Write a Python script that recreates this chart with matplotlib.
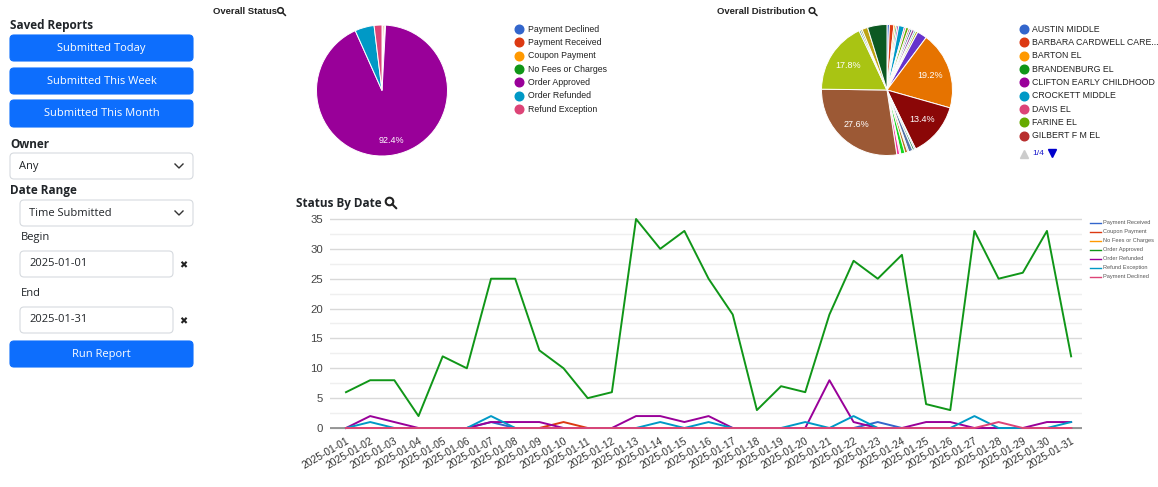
import matplotlib.pyplot as plt
from matplotlib.patches import FancyBboxPatch, Circle

W, H = 1158, 487
UI_FONT = ["Open Sans", "DejaVu Sans"]
CHART_FONT = ["Liberation Sans", "DejaVu Sans"]

# --- data ---
dates = ["2025-01-01", "2025-01-02", "2025-01-03", "2025-01-04", "2025-01-05",
         "2025-01-06", "2025-01-07", "2025-01-08", "2025-01-09", "2025-01-10",
         "2025-01-11", "2025-01-12", "2025-01-13", "2025-01-14", "2025-01-15",
         "2025-01-16", "2025-01-17", "2025-01-18", "2025-01-19", "2025-01-20",
         "2025-01-21", "2025-01-22", "2025-01-23", "2025-01-24", "2025-01-25",
         "2025-01-26", "2025-01-27", "2025-01-28", "2025-01-29", "2025-01-30",
         "2025-01-31"]

payment_received = [0, 0, 0, 0, 0, 0, 1, 0, 0, 0, 0, 0, 0, 0, 0, 0,
                    0, 0, 0, 0, 0, 0, 1, 0, 0, 0, 0, 0, 0, 0, 0]
coupon_payment = [0, 0, 0, 0, 0, 0, 0, 0, 0, 1, 0, 0, 0, 0, 0, 0,
                  0, 0, 0, 0, 0, 0, 0, 0, 0, 0, 0, 0, 0, 0, 0]
no_fees = [0] * 31
order_approved = [6, 8, 8, 2, 12, 10, 25, 25, 13, 10, 5, 6, 35, 30, 33, 25,
                  19, 3, 7, 6, 19, 28, 25, 29, 4, 3, 33, 25, 26, 33, 12]
order_refunded = [0, 2, 1, 0, 0, 0, 1, 1, 1, 0, 0, 0, 2, 2, 1, 2,
                  0, 0, 0, 0, 8, 1, 0, 0, 1, 1, 0, 0, 0, 1, 1]
refund_exception = [0, 1, 0, 0, 0, 0, 2, 0, 0, 0, 0, 0, 0, 1, 0, 1,
                    0, 0, 0, 1, 0, 2, 0, 0, 0, 0, 2, 0, 0, 0, 1]
payment_declined = [0, 0, 0, 0, 0, 0, 0, 0, 0, 0, 0, 0, 0, 0, 0, 0,
                    0, 0, 0, 0, 0, 0, 0, 0, 0, 0, 0, 1, 0, 0, 0]

line_names = ["Payment Received", "Coupon Payment", "No Fees or Charges",
              "Order Approved", "Order Refunded", "Refund Exception",
              "Payment Declined"]
line_values = [payment_received, coupon_payment, no_fees, order_approved,
               order_refunded, refund_exception, payment_declined]
line_colors = ["#3366cc", "#dc3912", "#ff9900", "#109618", "#990099",
               "#0099c6", "#dd4477"]

status_labels = ["Payment Declined", "Payment Received", "Coupon Payment",
                 "No Fees or Charges", "Order Approved", "Order Refunded",
                 "Refund Exception"]
status_counts = [1, 2, 1, 1, 525, 27, 11]
status_colors = ["#3366cc", "#dc3912", "#ff9900", "#109618", "#990099",
                 "#0099c6", "#dd4477"]

school_names = ["AUSTIN MIDDLE", "BARBARA CARDWELL CARE...", "BARTON EL",
                "BRANDENBURG EL", "CLIFTON EARLY CHILDHOOD", "CROCKETT MIDDLE",
                "DAVIS EL", "FARINE EL", "GILBERT F M EL"]
school_shares = [0.6, 1.1, 0.4, 0.4, 0.4, 1.4, 0.4, 0.7, 0.4, 0.5, 0.6, 0.4,
                 0.5, 2.4, 19.2, 13.4, 0.3, 0.5, 1.0, 0.3, 0.7, 1.0, 0.3, 0.7,
                 27.6, 17.8, 0.4, 0.4, 1.4, 4.8]
school_colors = ["#3366cc", "#dc3912", "#ff9900", "#109618", "#990099",
                 "#0099c6", "#dd4477", "#66aa00", "#b82e2e", "#316395",
                 "#994499", "#22aa99", "#aaaa11", "#6633cc", "#e67300",
                 "#8b0707", "#651067", "#329262", "#5574a6", "#3b3eac",
                 "#b77322", "#16d620", "#b91383", "#f4359e", "#9c5935",
                 "#a9c413", "#2a778d", "#668d1c", "#bea413", "#0c5922"]

fig = plt.figure(figsize=(W / 100, H / 100), dpi=100)

# overlay in pixel coordinates for the form controls and hand-made legends
ov = fig.add_axes([0, 0, 1, 1])
ov.set_xlim(0, W)
ov.set_ylim(H, 0)
ov.axis("off")


def box(x0, y0, x1, y1, fc, ec, r=4):
    ov.add_patch(FancyBboxPatch((x0 + r, y0 + r), x1 - x0 - 2 * r, y1 - y0 - 2 * r,
                                boxstyle=f"round,pad={r}", fc=fc, ec=ec, lw=0.8))


def button(y0, y1, label):
    box(10, y0, 193, y1, "#0d6efd", "#0d6efd")
    ov.text(101.5, (y0 + y1) / 2, label, color="white", ha="center", va="center",
            fontsize=8, family=UI_FONT)


def field(x0, y0, x1, y1, label, chevron=False):
    box(x0, y0, x1, y1, "white", "#d6dadf")
    ov.text(x0 + 9, (y0 + y1) / 2, label, color="#212529", ha="left", va="center",
            fontsize=8, family=UI_FONT)
    if chevron:
        cy = (y0 + y1) / 2
        ov.plot([175, 179, 183], [cy - 2, cy + 2, cy - 2], color="#333", lw=1)


def heading(x, y, label, size=8.5):
    ov.text(x, y, label, color="#212529", ha="left", va="center", fontsize=size,
            fontweight="bold", family=UI_FONT)


def magnifier(cx, cy, r, lw):
    ov.add_patch(Circle((cx, cy), r, fill=False, ec="#222", lw=lw))
    ov.plot([cx + r * 0.7, cx + r * 1.8], [cy + r * 0.7, cy + r * 1.8],
            color="#222", lw=lw, solid_capstyle="round")


# --- sidebar ---
heading(10, 26, "Saved Reports")
button(35, 61, "Submitted Today")
button(68, 94, "Submitted This Week")
button(100, 127, "Submitted This Month")
heading(10, 144, "Owner")
field(10, 153, 193, 179, "Any", chevron=True)
heading(10, 190.5, "Date Range")
field(20, 200, 193, 226, "Time Submitted", chevron=True)
ov.text(20.5, 237.5, "Begin", color="#212529", va="center", fontsize=8, family=UI_FONT)
field(20, 251, 173, 277, "2025-01-01")
ov.text(183, 265, "\u2716", ha="center", va="center", fontsize=7, color="#222",
        family="DejaVu Sans")
ov.text(20.5, 293, "End", color="#212529", va="center", fontsize=8, family=UI_FONT)
field(20, 307, 173, 333, "2025-01-31")
ov.text(183, 321.5, "\u2716", ha="center", va="center", fontsize=7, color="#222",
        family="DejaVu Sans")
button(341, 367, "Run Report")

# --- titles ---
ov.text(213, 11.5, "Overall Status", fontsize=6.8, fontweight="bold", va="center",
        color="#222", family=CHART_FONT)
magnifier(280.5, 10.5, 2.8, 1.1)
ov.text(717, 11.5, "Overall Distribution", fontsize=6.8, fontweight="bold", va="center",
        color="#222", family=CHART_FONT)
magnifier(812, 10.5, 2.8, 1.1)
heading(296, 203, "Status By Date", size=8.5)
magnifier(389.5, 201.5, 3.8, 1.5)


def pie_axes(cx, cy, r):
    return fig.add_axes([(cx - r) / W, 1 - (cy + r) / H, 2 * r / W, 2 * r / H])


def pct(p):
    return f"{p:.1f}%" if p > 5 else ""


# --- status pie ---
ax1 = pie_axes(382, 90.5, 65.5)
ax1.pie(status_counts, colors=status_colors, startangle=90, counterclock=False,
        autopct=pct, pctdistance=0.78,
        wedgeprops=dict(edgecolor="white", linewidth=0.7),
        textprops=dict(color="white", fontsize=6.5, family=CHART_FONT))
ax1.set_xlim(-1, 1)
ax1.set_ylim(-1, 1)
for i, (name, col) in enumerate(zip(status_labels, status_colors)):
    y = 29 + i * 13.35
    ov.plot(519, y, "o", ms=6.2, color=col, mec=col)
    ov.text(527.5, y, name, fontsize=6.3, va="center", color="#222", family=CHART_FONT)

# --- distribution pie ---
ax2 = pie_axes(887, 90, 65.5)
ax2.pie(school_shares, colors=school_colors, startangle=90, counterclock=False,
        autopct=pct, pctdistance=0.7,
        wedgeprops=dict(edgecolor="white", linewidth=0.7),
        textprops=dict(color="white", fontsize=6.5, family=CHART_FONT))
ax2.set_xlim(-1, 1)
ax2.set_ylim(-1, 1)
for i, name in enumerate(school_names):
    y = 29 + i * 13.35
    ov.plot(1024, y, "o", ms=6.2, color=school_colors[i], mec=school_colors[i])
    ov.text(1032.5, y, name, fontsize=6.3, va="center", color="#222", family=CHART_FONT)
ov.plot(1024, 153.5, "^", ms=5.5, color="#cccccc")
ov.text(1032.5, 153.5, "1/4", fontsize=6.1, va="center", color="#1a1acc", family=CHART_FONT)
ov.plot(1051.5, 153, "v", ms=5.5, color="#0000cc")

# --- status by date ---
ax = fig.add_axes([330 / W, 1 - 430.4 / H, 752 / W, 213.8 / H])
ax.patch.set_alpha(0)
xs = list(range(len(dates)))
for name, vals, col in zip(line_names, line_values, line_colors):
    ax.plot(xs, vals, color=col, lw=1.4, label=name, zorder=3)
ax.axhline(0, color="#888888", lw=1.2, zorder=2)
ax.set_xlim(-0.662, 30.45)
ax.set_ylim(-0.4, 35.4)
ax.set_yticks(range(0, 36, 5))
ax.set_yticks([2.5 + 5 * k for k in range(7)], minor=True)
ax.grid(axis="y", which="major", color="#d9d9d9", lw=1)
ax.grid(axis="y", which="minor", color="#efefef", lw=1)
ax.set_axisbelow(True)
for s in ax.spines.values():
    s.set_visible(False)
ax.tick_params(axis="both", which="both", length=0)
ax.tick_params(axis="y", pad=5, labelsize=8.2, labelcolor="#444")
ax.set_xticks(xs)
ax.set_xticklabels(dates, rotation=30, ha="right", va="top", rotation_mode="anchor",
                   fontsize=7.4, color="#333", family=CHART_FONT)
for t in ax.get_yticklabels():
    t.set_family(CHART_FONT)
ax.tick_params(axis="x", pad=4)

for i, (name, col) in enumerate(zip(line_names, line_colors)):
    y = 222.5 + i * 9.0
    ov.plot([1090, 1101], [y, y], color=col, lw=1)
    ov.text(1103, y, name, fontsize=4.1, va="center", color="#555", family=CHART_FONT)

fig.savefig("out.png", dpi=100)
